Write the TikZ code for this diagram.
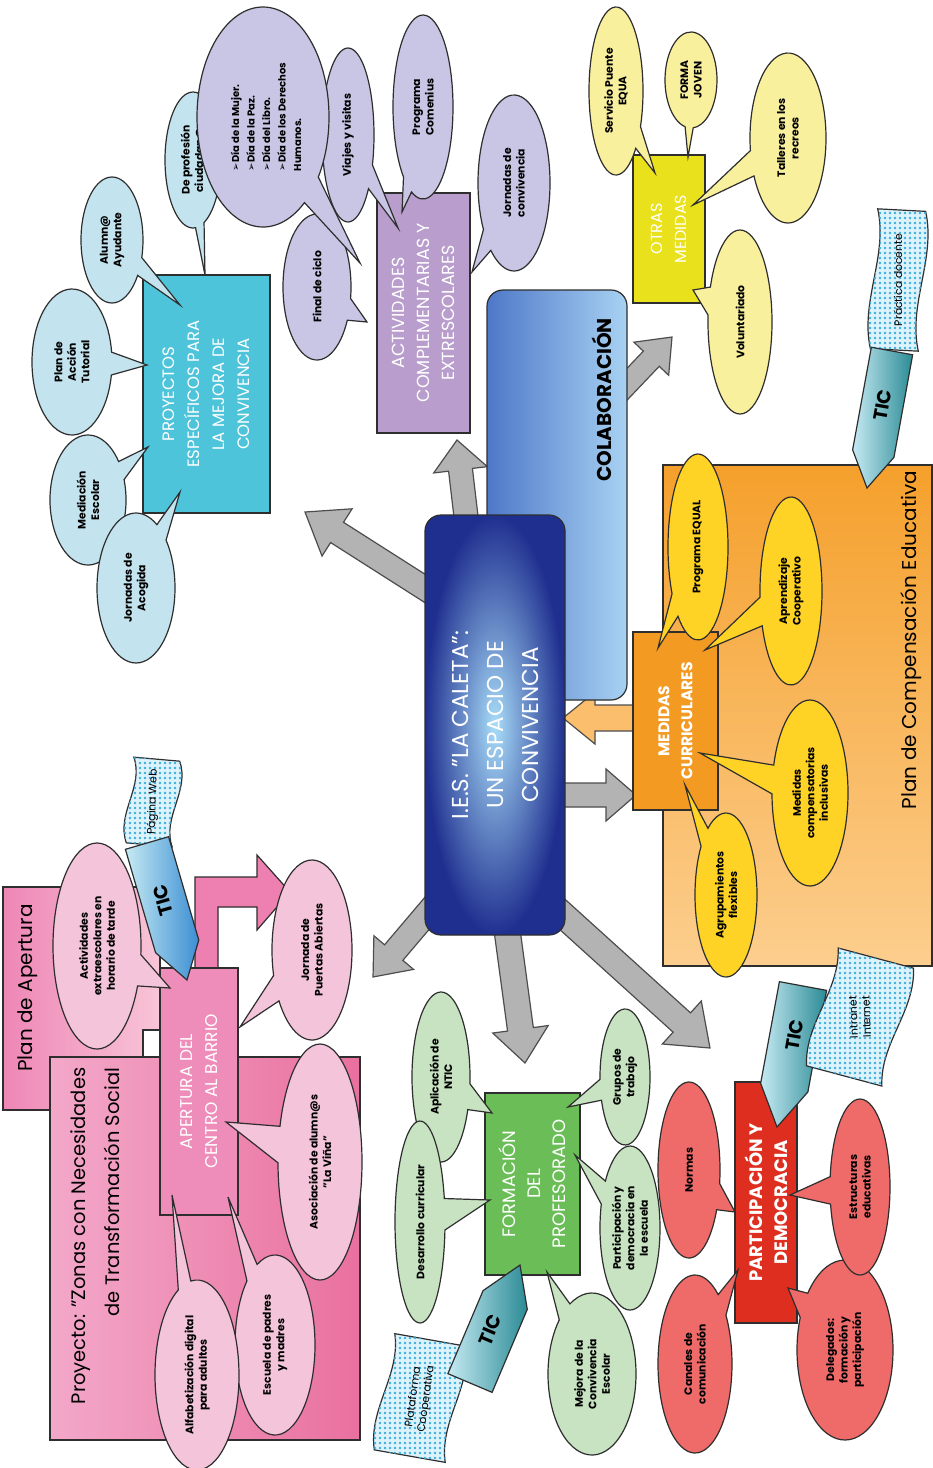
\documentclass[tikz,border=0pt]{standalone}
\usepackage{fontspec}
\setmainfont{Poppins}
\newfontfamily\symfont{DejaVu Sans}
\usetikzlibrary{calc,patterns.meta}
\definecolor{linec}{HTML}{2E2E2E}
\definecolor{arrowgray}{HTML}{B3B3B3}
\definecolor{arrowline}{HTML}{4D4D4D}
\definecolor{oarrowfill}{HTML}{FBBE6C}
\definecolor{centin}{HTML}{A8DCF8}
\definecolor{centout}{HTML}{1F2F8F}
\definecolor{colabL}{HTML}{4E78C8}
\definecolor{colabR}{HTML}{A8D2F2}
\definecolor{cproy}{HTML}{4EC4DA}
\definecolor{cact}{HTML}{B99ECD}
\definecolor{cotras}{HTML}{E8E11C}
\definecolor{cmed}{HTML}{F39A23}
\definecolor{cpart}{HTML}{DD2E1F}
\definecolor{cform}{HTML}{6BBE57}
\definecolor{capert}{HTML}{EE8DBA}
\definecolor{compT}{HTML}{F5A02C}
\definecolor{compB}{HTML}{FCCE8E}
\definecolor{apL}{HTML}{EE86B6}
\definecolor{apR}{HTML}{F8C5D7}
\definecolor{prL}{HTML}{F3A8C9}
\definecolor{prR}{HTML}{E9709F}
\definecolor{cbent}{HTML}{EE80B1}
\definecolor{bubcyan}{HTML}{C3E4EE}
\definecolor{bublav}{HTML}{C9C6E5}
\definecolor{bubyel}{HTML}{F9F09E}
\definecolor{bubgold}{HTML}{FFD326}
\definecolor{bubsal}{HTML}{EE6B69}
\definecolor{bubgreen}{HTML}{C7E3C1}
\definecolor{bubpink}{HTML}{F4C5DA}
\definecolor{ticL}{HTML}{C6EAF3}
\definecolor{ticD}{HTML}{2B8B95}
\definecolor{ticB}{HTML}{3C8ED3}
\definecolor{flagfill}{HTML}{DDF3FB}
\definecolor{flagdot}{HTML}{3AAEDC}
\tikzset{
  outl/.style={draw=linec, line width=1.2pt},
  btxt/.style={rotate=90, align=center, text=black, font=\bfseries\fontsize{10.8}{13.5}\selectfont},
  box/.style={outl, rotate=90, align=center, text=white},
  garrow/.style={draw=arrowline, fill=arrowgray, line width=1.2pt},
  oarrow/.style={draw=arrowline, fill=oarrowfill, line width=1.2pt},
  tictxt/.style={font=\bfseries\fontsize{19}{19}\selectfont, text=black},
  flagtxt/.style={align=center, text=black, font=\fontsize{10.8}{13}\selectfont},
}
% callout bubble: name, cx, cy, rx, ry, tipx, tipy, colour, text
\newcommand\mybubble[9]{%
  \pgfmathsetmacro\bubT{atan2((#7-#3)/#5,(#6-#2)/#4)}%
  \pgfmathsetmacro\bubS{\bubT+9}%
  \pgfmathsetmacro\bubE{\bubT+351}%
  \draw[outl, fill=#8] ($(#2,#3)+(\bubS:#4 and #5)$) arc[start angle=\bubS, end angle=\bubE, x radius=#4, y radius=#5] -- (#6,#7) -- cycle;
  \node[btxt] (#1) at (#2,#3) {#9};}
% block arrow: x1 y1 x2 y2 shaft headwidth headlength style
\newcommand\blockarrow[8]{%
  \pgfmathsetmacro\baA{atan2(-(#4-#2),(#3-#1))}%
  \pgfmathsetmacro\baL{veclen(#3-#1,#4-#2)}%
  \pgfmathsetmacro\baH{\baL-#7}%
  \begin{scope}[shift={(#1,#2)}, rotate=\baA]
    \draw[#8] (0,-#5/2) -- (\baH,-#5/2) -- (\baH,-#6/2) -- (\baL,0) -- (\baH,#6/2) -- (\baH,#5/2) -- (0,#5/2) -- cycle;
  \end{scope}}
% TIC pentagon arrow: bx by tx ty width headlength basecolour tipcolour
\newcommand\ticarrow[8]{%
  \pgfmathsetmacro\taA{atan2(-(#4-#2),(#3-#1))}%
  \pgfmathsetmacro\taL{veclen(#3-#1,#4-#2)}%
  \pgfmathsetmacro\taH{\taL-#6}%
  \begin{scope}[shift={(#1,#2)}, rotate=\taA]
    \shadedraw[outl, left color=#7, right color=#8] (0,-#5/2) -- (\taH,-#5/2) -- (\taL,0) -- (\taH,#5/2) -- (0,#5/2) -- cycle;
  \end{scope}}
% wavy dotted flag: name cx cy w h rot textrot text
\newcommand\flagnode[8]{%
  \begin{scope}[shift={(#2,#3)}, rotate=#6]
    \draw[outl, fill=flagfill, postaction={pattern={Dots[distance=5pt, radius=1.3pt]}, pattern color=flagdot}]
      (-#4/2,-#5/2) -- (#4/2,-#5/2) .. controls (#4/2+13,-#5/6) and (#4/2-13,#5/6) .. (#4/2,#5/2)
      -- (-#4/2,#5/2) .. controls (-#4/2-13,#5/6) and (-#4/2+13,-#5/6) .. (-#4/2,-#5/2) -- cycle;
  \end{scope}
  \node[flagtxt, rotate=#7] (#1) at (#2,#3) {#8};}
\begin{document}
\begin{tikzpicture}[x=1pt,y=-1pt]
\useasboundingbox (0,0) rectangle (933,1468);
\fill[white] (0,0) rectangle (933,1468);

% ---- background panels
\node[outl, top color=compT, bottom color=compB, minimum width=269pt, minimum height=501pt] (comp) at (797.5,715.5) {};
\node[rotate=90, font=\fontsize{20}{24}\selectfont] (comptxt) at (911,640) {Plan de Compensación Educativa};

\node[outl, left color=apL, right color=apR, minimum width=157pt, minimum height=223pt] (planap) at (81.5,998.5) {};
\node[rotate=90, font=\fontsize{20}{24}\selectfont] (planaptxt) at (28,988) {Plan de Apertura};
\node[outl, fill=white, minimum width=17pt, minimum height=27pt, inner sep=0pt] (notch) at (151.5,1043.5) {};
\node[outl, left color=prL, right color=prR, minimum width=310pt, minimum height=383pt] (proyecto) at (205,1248.5) {};
\node[rotate=90, anchor=east, align=right, font=\fontsize{19.5}{34}\selectfont] (proyectotxt) at (95,1064) {Proyecto: "Zonas con Necesidades\\de Transformación Social};

% bent pink arrow
\draw[outl, fill=cbent] (195,968) -- (195,877) -- (257,877) -- (257,855) -- (290,892) -- (257,930) -- (257,907) -- (218,907) -- (218,968) -- cycle;

% ---- block arrows
\blockarrow{440}{598}{305}{512}{24}{56}{38}{garrow}
\blockarrow{467}{525}{457}{440}{24}{54}{30}{garrow}
\blockarrow{612}{400}{672}{337}{22}{48}{30}{garrow}
\blockarrow{645}{718}{563}{718}{26}{52}{32}{oarrow}
\blockarrow{555}{795}{636}{795}{24}{52}{30}{garrow}
\blockarrow{440}{898}{373}{977}{24}{52}{32}{garrow}
\blockarrow{505}{915}{525}{1063}{26}{56}{34}{garrow}
\blockarrow{552}{905}{710}{1048}{26}{58}{38}{garrow}

% ---- central boxes
\node[outl, rounded corners=16pt, left color=colabL, right color=colabR, minimum width=140pt, minimum height=410pt] (colab) at (557,495) {};
\node[rotate=90, font=\bfseries\fontsize{20}{24}\selectfont] (colabtxt) at (602,400) {COLABORACIÓN};
\node[outl, rounded corners=16pt, inner color=centin, outer color=centout, minimum width=140pt, minimum height=420pt] (central) at (495,725) {};
\node[rotate=90, text=white, align=center, font=\fontsize{23}{35}\selectfont] (centraltxt) at (495,725) {I.E.S. "LA CALETA":\\UN ESPACIO DE\\CONVIVENCIA};

% ---- topic boxes
\node[box, fill=cproy, minimum width=238pt, minimum height=127pt, font=\fontsize{16.5}{25}\selectfont] (proy) at (206.5,394) {PROYECTOS\\ESPECÍFICOS PARA\\LA MEJORA DE\\CONVIVENCIA};
\node[box, fill=cact, minimum width=240pt, minimum height=93pt, font=\fontsize{17.5}{25}\selectfont] (activ) at (423.5,313) {ACTIVIDADES\\COMPLEMENTARIAS Y\\EXTRESCOLARES};
\node[box, fill=cotras, minimum width=148pt, minimum height=72pt, font=\fontsize{16}{24}\selectfont] (otras) at (669,229) {OTRAS\\MEDIDAS};
\node[box, fill=cmed, minimum width=178pt, minimum height=85pt, font=\bfseries\fontsize{15.5}{23}\selectfont] (medidas) at (675.5,721) {MEDIDAS\\CURRICULARES};
\node[box, fill=cpart, minimum width=241pt, minimum height=62pt, font=\bfseries\fontsize{18}{25}\selectfont] (partic) at (766,1202.5) {PARTICIPACIÓN Y\\DEMOCRACIA};
\node[box, fill=cform, minimum width=182pt, minimum height=95pt, font=\fontsize{18}{25}\selectfont] (formac) at (532.5,1184) {FORMACIÓN\\DEL\\PROFESORADO};
\node[box, fill=capert, minimum width=247pt, minimum height=78pt, font=\fontsize{17}{25}\selectfont] (apert) at (199,1091.5) {APERTURA DEL\\CENTRO AL BARRIO};

% ---- flags under TIC arrows
\flagnode{fl1}{898}{280}{48}{140}{-3}{90}{Práctica docente}
\flagnode{fl3}{420}{1398}{72}{118}{-10}{82}{Plataforma\\Cooperativa}
\flagnode{fl4}{153}{802}{46}{86}{-5}{88}{Página Web}

% ---- bubbles: proyectos
\mybubble{alumno}{112}{240}{31}{63}{180}{305}{bubcyan}{Alumn@\\Ayudante}
\mybubble{pat}{72}{362}{40}{73}{147}{365}{bubcyan}{Plan de\\Acción\\Tutorial}
\mybubble{mediac}{88}{500}{38}{65}{148}{447}{bubcyan}{Mediación\\Escolar}
\mybubble{acogida}{136}{588}{39}{75}{180}{492}{bubcyan}{Jornadas de\\Acogida}
\mybubble{profes}{193}{160}{28}{68}{205}{275}{bubcyan}{De profesión\\ciudadan@}
% actividades
\mybubble{final}{317}{287}{34}{73}{367}{322}{bublav}{Final de ciclo}
\mybubble{viajes}{348}{135}{26}{87}{398}{228}{bublav}{Viajes y visitas}
\mybubble{dia}{263}{117}{66}{110}{360}{263}{bublav}{}
\node[rotate=90, align=left, font=\bfseries\fontsize{10}{15.5}\selectfont] (diatxt) at (266,117) {{\symfont ➢}Día de la Mujer.\\{\symfont ➢}Día de la Paz.\\{\symfont ➢}Día del Libro.\\{\symfont ➢}Día de los Derechos\\Humanos.};
\mybubble{comenius}{423}{107}{30}{92}{402}{212}{bublav}{Programa\\Comenius}
\mybubble{jconv}{514}{183}{36}{88}{472}{272}{bublav}{Jornadas de\\convivencia}
% otras medidas
\mybubble{servicio}{616}{91}{27}{84}{655}{173}{bubyel}{Servicio Puente\\EQUA}
\mybubble{forma}{691}{80}{26}{48}{688}{157}{bubyel}{FORMA\\JOVEN}
\mybubble{talleres}{788}{138}{38}{85}{693}{205}{bubyel}{Talleres en los\\recreos}
\mybubble{volunt}{740}{322}{32}{92}{693}{290}{bubyel}{Voluntariado}
% medidas curriculares
\mybubble{equal}{698}{547}{30}{93}{658}{648}{bubgold}{Programa EQUAL}
\mybubble{aprend}{791}{591}{31}{94}{705}{650}{bubgold}{Aprendizaje\\Cooperativo}
\mybubble{medcomp}{810}{793}{38}{93}{700}{753}{bubgold}{Medidas\\compensatorias\\inclusivas}
\mybubble{agrup}{726}{895}{31}{82}{685}{785}{bubgold}{Agrupamientos\\flexibles}
% participacion
\mybubble{normas}{689}{1170}{31}{88}{735}{1212}{bubsal}{Normas}
\mybubble{deleg}{845}{1350}{48}{90}{788}{1288}{bubsal}{Delegados:\\formación y\\participación}
\mybubble{estruct}{860}{1187}{30}{88}{790}{1195}{bubsal}{Estructuras\\educativas}
\mybubble{canales}{695}{1364}{37}{89}{738}{1270}{bubsal}{Canales de\\comunicación}
% formacion
\mybubble{ntic}{441}{1077}{29}{85}{492}{1113}{bubgreen}{Aplicación de\\NTIC}
\mybubble{desarr}{420}{1222}{25}{101}{490}{1200}{bubgreen}{Desarrollo curricular}
\mybubble{grupos}{625}{1077}{25}{68}{568}{1107}{bubgreen}{Grupos de\\trabajo}
\mybubble{partesc}{630}{1228}{30}{82}{575}{1155}{bubgreen}{Participación y\\democracia en\\la escuela}
\mybubble{mejora}{592}{1374}{44}{81}{547}{1272}{bubgreen}{Mejora de la\\Convivencia\\Escolar}
% apertura
\mybubble{actext}{97}{946}{44}{103}{170}{988}{bubpink}{Actividades\\extraescolares en\\horario de tarde}
\mybubble{jpa}{312}{950}{40}{90}{240}{1027}{bubpink}{Jornada de\\Puertas Abiertas}
\mybubble{asoc}{320}{1162}{42}{118}{226}{1122}{bubpink}{Asociación de alumn@s\\"La Viña"}
\mybubble{escuela}{275}{1345}{40}{90}{228}{1197}{bubpink}{Escuela de padres\\y madres}
\mybubble{alfab}{197}{1375}{42}{95}{172}{1195}{bubpink}{Alfabetización digital\\para adultos}

% ---- TIC arrows
\ticarrow{892}{351}{867}{488}{42}{35}{ticL}{ticD}
\node[tictxt, rotate=80] (tic1) at (883,405) {TIC};
\ticarrow{803}{986}{777}{1127}{48}{40}{ticL}{ticD}
\node[tictxt, rotate=80] (tic2) at (795,1035) {TIC};
\flagnode{fl2}{860}{1017}{78}{122}{-15}{92}{Intranet\\Internet}
\ticarrow{470}{1383}{520}{1265}{48}{38}{ticL}{ticD}
\node[tictxt, rotate=67] (tic3) at (490,1330) {TIC};
\ticarrow{147}{843}{187}{980}{45}{35}{ticL}{ticB}
\node[tictxt, rotate=106] (tic4) at (163,900) {TIC};
\end{tikzpicture}
\end{document}
